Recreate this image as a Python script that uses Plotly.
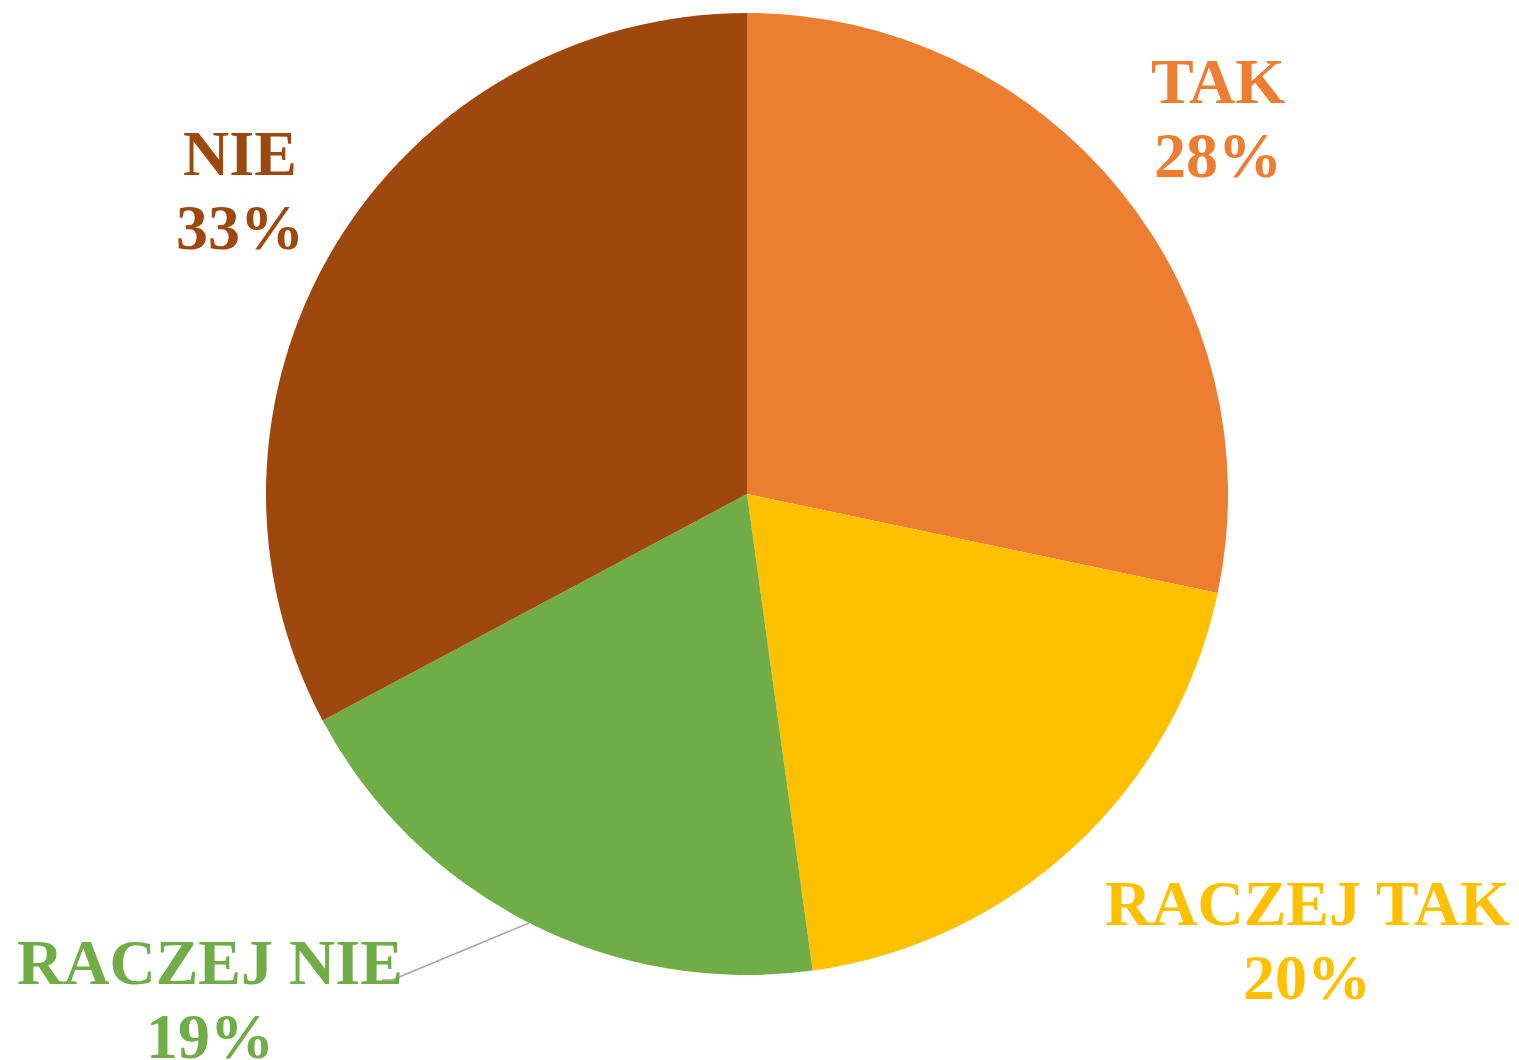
import plotly.graph_objects as go

categories = ["TAK", "RACZEJ TAK", "RACZEJ NIE", "NIE"]
values = [28.3, 19.52, 19.38, 32.8]
colors = ["#ED7D31", "#FFC000", "#70AD47", "#9E480E"]

W, H = 1519, 1060
total = sum(values)

fig = go.Figure(go.Pie(
    labels=categories,
    values=values,
    sort=False,
    direction="clockwise",
    rotation=0,
    marker=dict(colors=colors, line=dict(color="#FFFFFF", width=0)),
    textinfo="none",
    hoverinfo="label+percent",
    showlegend=False,
    domain=dict(x=[266 / W, 1228 / W], y=[1 - 975 / H, 1 - 13 / H]),
))

# label placement (pixel centres of each line of text)
label_pos = {
    "TAK": (1218, 81, 155),
    "RACZEJ TAK": (1307, 903, 977),
    "RACZEJ NIE": (210, 962, 1036),
    "NIE": (240, 154, 228),
}
font_family = "Liberation Serif, Times New Roman, serif"
annotations = []
for cat, val, col in zip(categories, values, colors):
    x, y1, y2 = label_pos[cat]
    pct = f"{round(val / total * 100)}%"
    for txt, yy in ((cat, y1), (pct, y2)):
        annotations.append(dict(
            x=x / W, y=1 - yy / H, xref="paper", yref="paper",
            text=f"<b>{txt}</b>", showarrow=False,
            xanchor="center", yanchor="middle",
            font=dict(family=font_family, size=64, color=col),
        ))

# leader line for RACZEJ NIE
pts = [(529, 923), (392, 980), (382, 980)]
shapes = []
for (xa, ya), (xb, yb) in zip(pts[:-1], pts[1:]):
    shapes.append(dict(
        type="line", xref="paper", yref="paper",
        x0=xa / W, y0=1 - ya / H, x1=xb / W, y1=1 - yb / H,
        line=dict(color="#A6A6A6", width=1.5),
    ))

fig.update_layout(
    width=W, height=H,
    margin=dict(l=0, r=0, t=0, b=0),
    paper_bgcolor="white",
    plot_bgcolor="white",
    annotations=annotations,
    shapes=shapes,
)

fig.write_html(
    "out.html",
    config={"displayModeBar": False},
    post_script="document.body.style.margin='0px';document.body.style.padding='0px';",
)
